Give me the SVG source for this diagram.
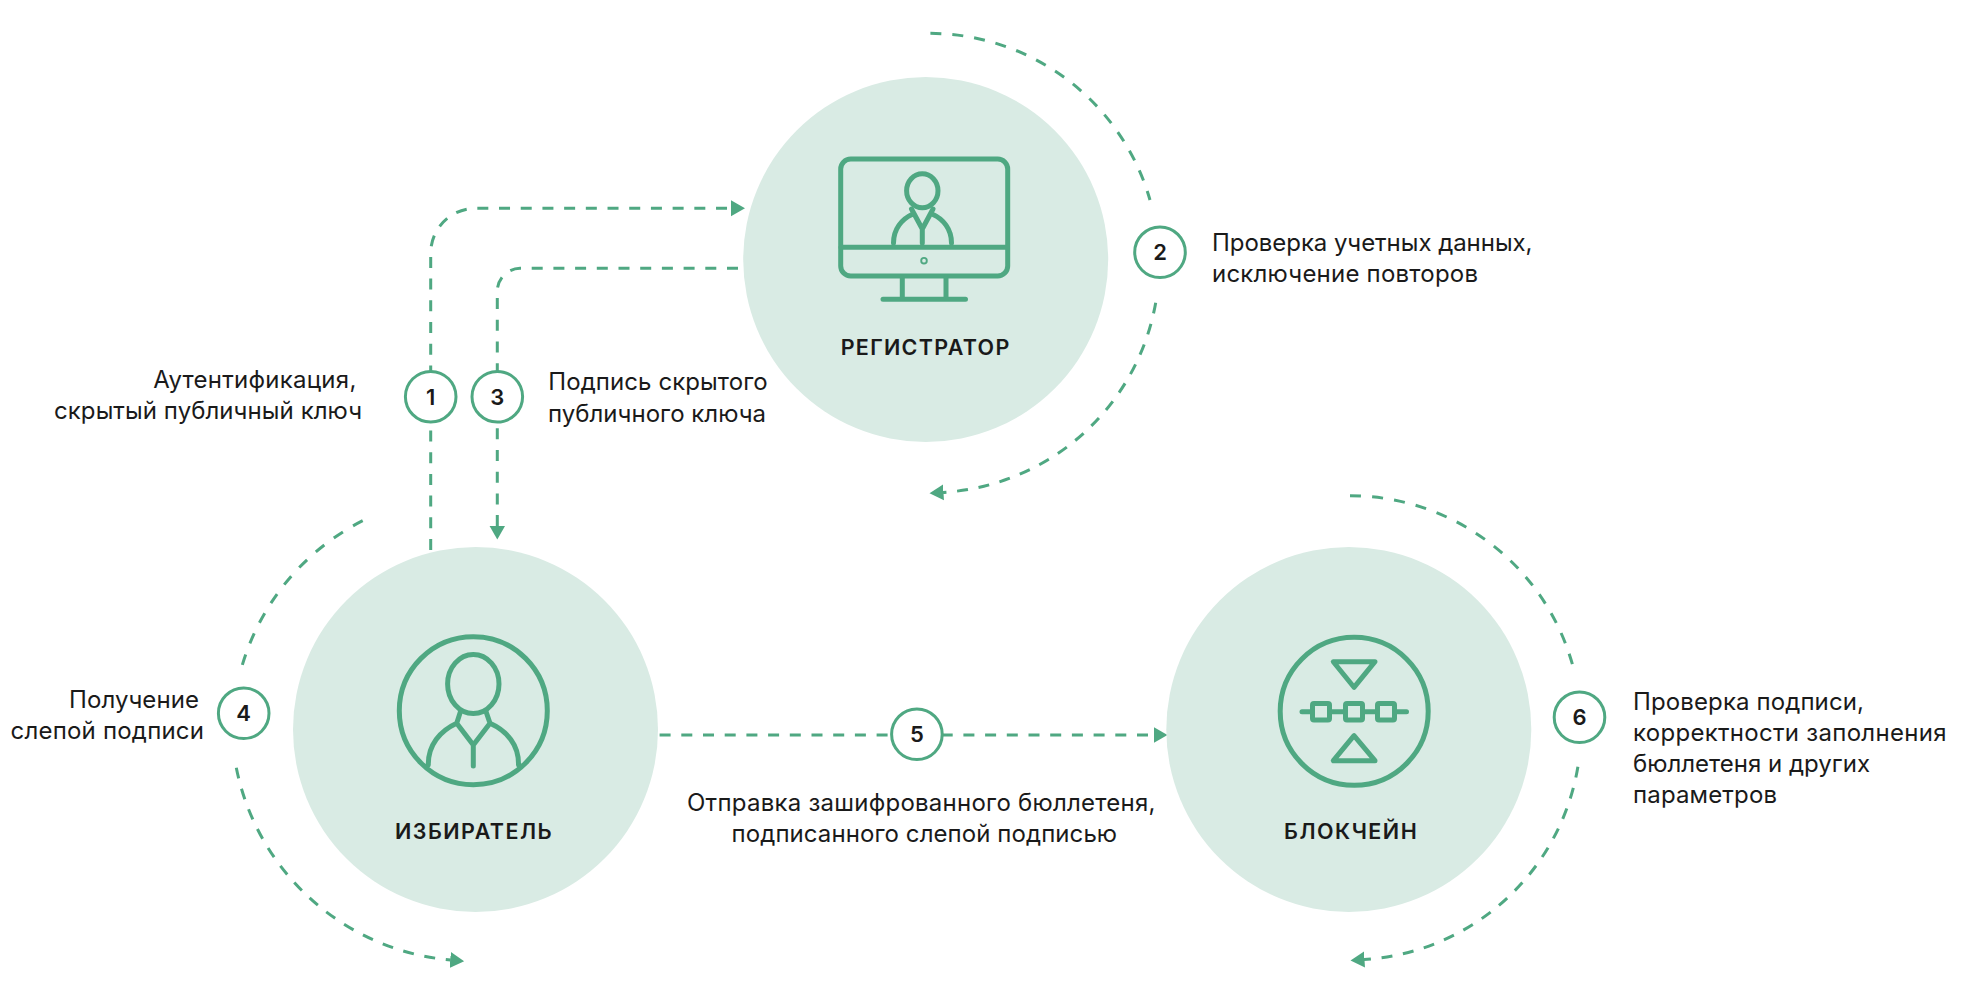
<svg xmlns="http://www.w3.org/2000/svg" width="1969" height="1002" viewBox="0 0 1969 1002">
<style>
.disc{fill:#d9ebe4}
.ico{fill:none;stroke:#4fa882;stroke-width:5;stroke-linecap:round;stroke-linejoin:round}
.link{fill:none;stroke:#4fa882;stroke-width:3;stroke-dasharray:11 10.7}
.badge{fill:#fff;stroke:#4fa882;stroke-width:3}
text{font-family:Inter,"Liberation Sans",Arial,sans-serif;fill:#1a1a1a}
.t{font-size:24px}
.n{font-size:22px;font-weight:600;text-anchor:middle}
.h{font-size:21.5px;font-weight:600}
</style>
<defs>
<marker id="arrow" markerUnits="userSpaceOnUse" markerWidth="15" markerHeight="18" refX="0.5" refY="8.5" orient="auto"><path d="M0 0.5L14 8.5L0 16.5Z" fill="#4fa882"/></marker>
</defs>
<rect width="1969" height="1002" fill="#fff"/>
<g id="connectors">
<path class="link" marker-end="url(#arrow)" d="M430.7 550V253A45 45 0 0 1 476 208.3H731.5"/>
<path class="link" marker-end="url(#arrow)" d="M738 268.3H520A23 23 0 0 0 497.3 291V526"/>
<path class="link" style="stroke-dasharray:11 11" d="M930.4 33.3A230 230 0 0 1 1150 200"/>
<path class="link" marker-end="url(#arrow)" d="M1155.7 302.7A230 230 0 0 1 943 492.4"/>
<path class="link" style="stroke-dasharray:11 11.75" d="M362.7 520.7A238 238 0 0 0 242.3 665"/>
<path class="link" marker-end="url(#arrow)" d="M236.3 767.7A240 240 0 0 0 450.7 960"/>
<path class="link" marker-end="url(#arrow)" d="M659.6 735H1154"/>
<path class="link" style="stroke-dasharray:11 11.18" d="M1350 495.7A231.5 231.5 0 0 1 1572.6 665"/>
<path class="link" marker-end="url(#arrow)" d="M1577.9 766.7A231.5 231.5 0 0 1 1364 959.6"/>
</g>
<g id="node-registrar">
<circle class="disc" cx="925.7" cy="259.5" r="182.5"/>
<rect class="ico" x="840.7" y="159" width="167" height="117" rx="10"/>
<path class="ico" d="M841 247.3H1007M902.3 278V299.3M946 278V299.3M883 299.3H965.5"/>
<ellipse class="ico" cx="922.3" cy="190.7" rx="15.7" ry="17"/>
<path class="ico" d="M893.5 243C893.5 229 902 219 912 214.5M951.5 243C951.5 229 943 219 933 214.5M911.5 209L922.3 229L933 209M922.3 229V243"/>
<circle cx="924" cy="260.7" r="2.8" fill="none" stroke="#4fa882" stroke-width="1.9"/>
<text class="h" x="840.7" y="355" textLength="168.6">РЕГИСТРАТОР</text>
</g>
<g id="node-voter">
<circle class="disc" cx="475.5" cy="729.5" r="182.5"/>
<circle class="ico" cx="473.3" cy="710.7" r="74"/>
<ellipse class="ico" cx="473.3" cy="684" rx="25.7" ry="29.5"/>
<path class="ico" d="M428.3 765C428 745 440 731 456.7 723.3M518.5 765C519 745 507 731 490 723.3M460.5 711.5L456.7 723.3L473.3 745L490 723.3L486 711.5M473.3 745V766"/>
<text class="h" x="395" y="839.3" textLength="156.7">ИЗБИРАТЕЛЬ</text>
</g>
<g id="node-blockchain">
<circle class="disc" cx="1348.8" cy="729.5" r="182.5"/>
<circle class="ico" cx="1354.2" cy="711.3" r="74"/>
<path class="ico" d="M1333.3 661.7H1375L1354 687.3ZM1333.3 760.7H1375L1354 735.7ZM1302 711.7H1312M1330 711.7H1345M1363 711.7H1377M1395 711.7H1406.5"/>
<rect class="ico" x="1312.5" y="703.5" width="17" height="16.5" rx="1.5"/>
<rect class="ico" x="1345.5" y="703.5" width="17" height="16.5" rx="1.5"/>
<rect class="ico" x="1377.5" y="703.5" width="17" height="16.5" rx="1.5"/>
<text class="h" x="1284" y="839.3" textLength="132.7">БЛОКЧЕЙН</text>
</g>
<g id="step-1"><circle class="badge" cx="430.7" cy="396.7" r="25.3"/><text class="n" x="430.7" y="404.5">1</text>
<text class="t" x="153.3" y="387.5" textLength="203">Аутентификация,</text><text class="t" x="54" y="419" textLength="308">скрытый публичный ключ</text></g>
<g id="step-2"><circle class="badge" cx="1160" cy="252.3" r="25.3"/><text class="n" x="1160" y="260.3">2</text>
<text class="t" x="1212" y="250.7" textLength="320.5">Проверка учетных данных,</text><text class="t" x="1212" y="281.7" textLength="266">исключение повторов</text></g>
<g id="step-3"><circle class="badge" cx="497.3" cy="396.7" r="25.3"/><text class="n" x="497.3" y="404.5">3</text>
<text class="t" x="548.3" y="390" textLength="219.4">Подпись скрытого</text><text class="t" x="548" y="421.5" textLength="218">публичного ключа</text></g>
<g id="step-4"><circle class="badge" cx="243.7" cy="713.3" r="25.3"/><text class="n" x="243.7" y="721.3">4</text>
<text class="t" x="69" y="708.3" textLength="130">Получение</text><text class="t" x="10.5" y="739.3" textLength="193.5">слепой подписи</text></g>
<g id="step-5"><circle class="badge" cx="916.9" cy="734.3" r="25.3"/><text class="n" x="916.9" y="742.3">5</text>
<text class="t" x="687" y="810.7" textLength="468.5">Отправка зашифрованного бюллетеня,</text><text class="t" x="731.6" y="841.7" textLength="385.5">подписанного слепой подписью</text></g>
<g id="step-6"><circle class="badge" cx="1579.5" cy="717.3" r="25.3"/><text class="n" x="1579.5" y="725.3">6</text>
<text class="t" x="1633" y="710" textLength="231">Проверка подписи,</text><text class="t" x="1633" y="740.7" textLength="313.5">корректности заполнения</text><text class="t" x="1633" y="771.7" textLength="237">бюллетеня и других</text><text class="t" x="1633" y="803" textLength="144">параметров</text></g>
</svg>
